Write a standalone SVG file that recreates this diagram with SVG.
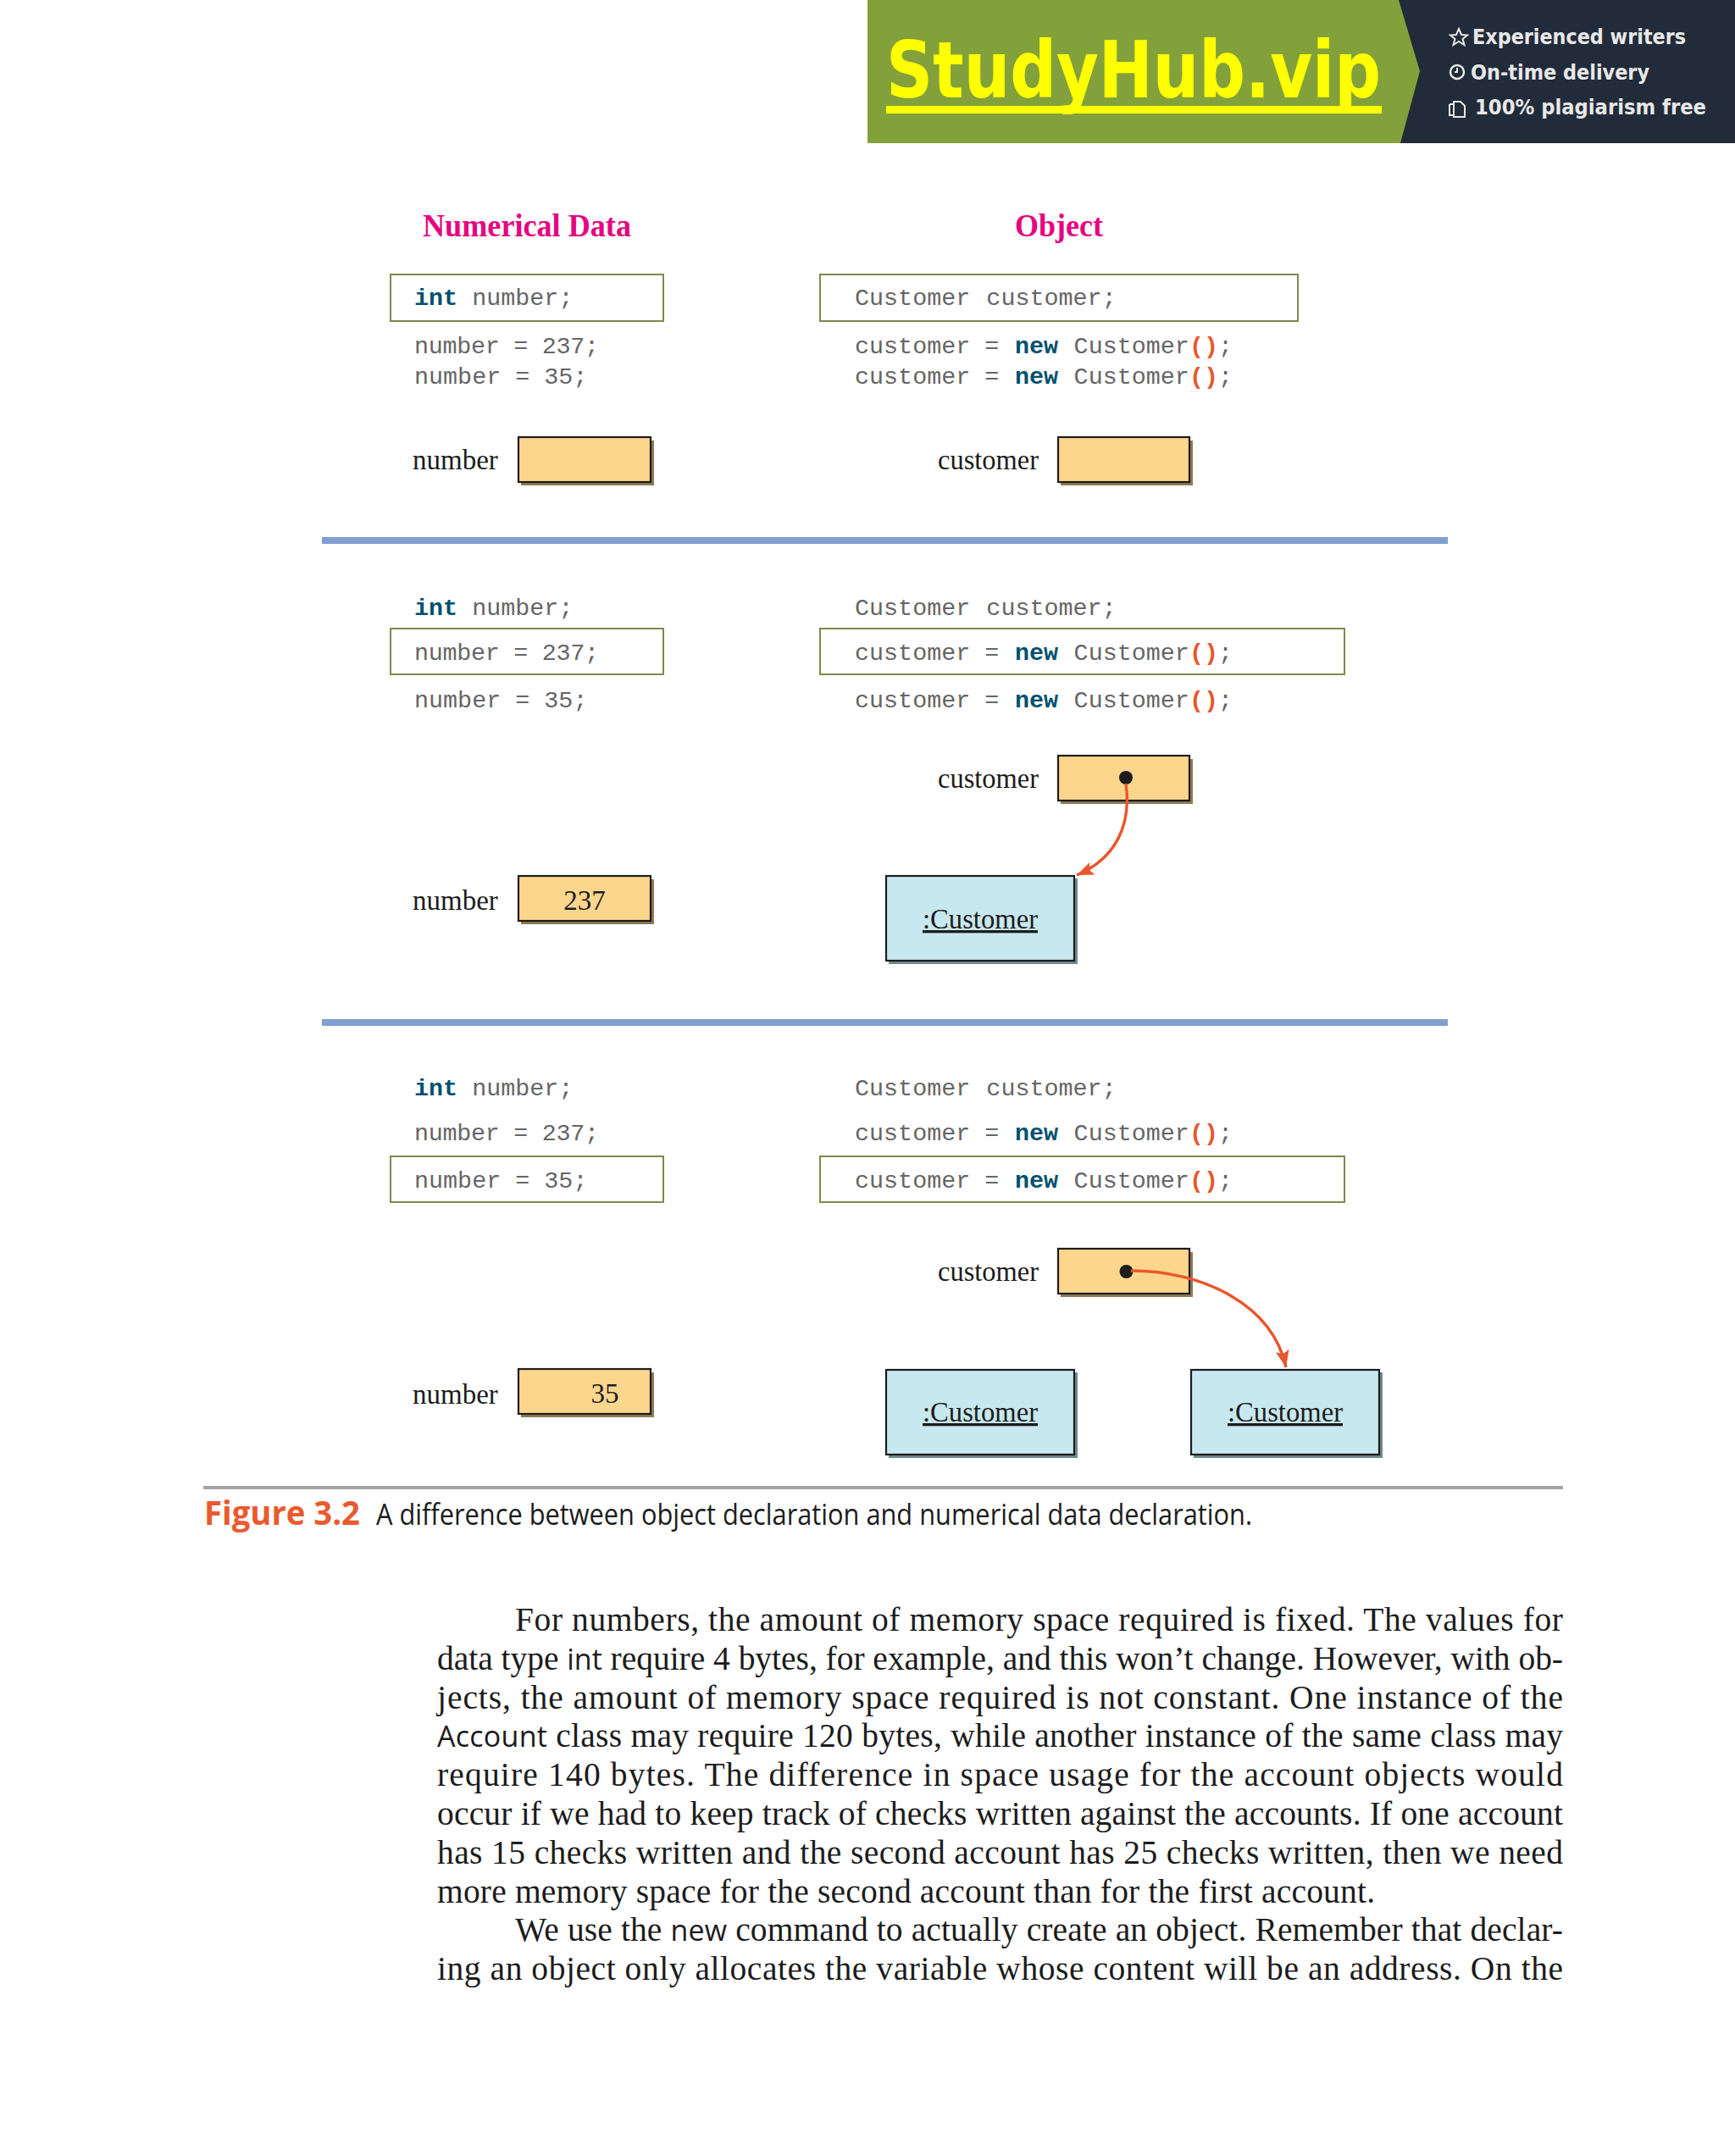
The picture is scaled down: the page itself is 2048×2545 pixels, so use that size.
<svg xmlns="http://www.w3.org/2000/svg" width="2048" height="2545" viewBox="0 0 2048 2545">
<style>
.h{font:bold 37px "Liberation Serif",serif;fill:#e5057f}
.c{font:28.4px "Liberation Mono",monospace;fill:#666}
.k{font-weight:bold;fill:#00506e}
.p{font-weight:bold;fill:#e9562c}
.l{font:33px "Liberation Serif",serif;fill:#1c1c1c}
.u{text-decoration:underline}
.sel{fill:#fff;stroke:#7d8a4e;stroke-width:2}
.var{fill:#fdd68e;stroke:#1c1c1c;stroke-width:2.2}
.vs{fill:#8c7c54}
.obj{fill:#c7e8ee;stroke:#1c1c1c;stroke-width:2.2}
.os{fill:#6f8a90}
.sep{fill:#7f9fd0}
.con{fill:none;stroke:#e9562c;stroke-width:3.4}
.b{font:39.5px "Liberation Serif",serif;fill:#1c1c1c}
.s{font-family:"Open Sans",sans-serif;font-size:34px}
.bt{font:bold 24px "DejaVu Sans",sans-serif;fill:#e8e8e8}
</style>
<defs>
<marker id="ah" markerUnits="userSpaceOnUse" markerWidth="22" markerHeight="16" refX="20" refY="8" orient="auto"><path d="M0 0L20 8L0 16L4 8Z" fill="#e9562c"/></marker>
</defs>
<rect width="2048" height="2545" fill="#fff"/>
<g id="banner">
<rect x="1024" y="0" width="1024" height="169" fill="#83a13a"/>
<path d="M1651 0H2048V169H1653L1676 84Z" fill="#222b3a"/>
<text x="1046" y="115" font-family="DejaVu Sans" font-weight="bold" font-size="92" fill="#ffff00" textLength="584" lengthAdjust="spacingAndGlyphs">StudyHub.vip</text>
<rect x="1046" y="125" width="585" height="9" fill="#ffff00"/>
<path d="M1722 34l3 7 7 .5-5.500 4.500 2 7-6.500-4-6.500 4 2-7-5.500-4.500 7-.5Z" fill="none" stroke="#e8e8e8" stroke-width="2"/>
<circle cx="1720" cy="85" r="8" fill="none" stroke="#e8e8e8" stroke-width="2.500"/>
<path d="M1720 80v5h-3" fill="none" stroke="#e8e8e8" stroke-width="2"/>
<path d="M1716 120h8l5 5v13h-13ZM1711 123h5M1711 123v13h5" fill="none" stroke="#e8e8e8" stroke-width="2"/>
<text class="bt" x="1738" y="52" textLength="252" lengthAdjust="spacingAndGlyphs">Experienced writers</text>
<text class="bt" x="1736" y="94" textLength="211" lengthAdjust="spacingAndGlyphs">On-time delivery</text>
<text class="bt" x="1741" y="135" textLength="273" lengthAdjust="spacingAndGlyphs">100% plagiarism free</text>
</g>
<g id="headings">
<text class="h" x="499" y="279" textLength="246" lengthAdjust="spacingAndGlyphs">Numerical Data</text>
<text class="h" x="1198" y="279" textLength="104" lengthAdjust="spacingAndGlyphs">Object</text>
</g>
<g id="section1">
<rect class="sel" x="461" y="324" width="322" height="55"/>
<rect class="sel" x="968" y="324" width="564" height="55"/>
<text class="c" x="489" y="360"><tspan class="k">int</tspan> number;</text>
<text class="c" x="1009" y="360">Customer <tspan dx="2">customer;</tspan></text>
<text class="c" x="489" y="417" textLength="218">number = 237;</text>
<text class="c" x="489" y="453">number = 35;</text>
<text class="c" x="1009" y="417">customer = <tspan class="k" dx="1.500">new</tspan> <tspan dx="1.500">Customer</tspan><tspan class="p">()</tspan>;</text>
<text class="c" x="1009" y="453">customer = <tspan class="k" dx="1.500">new</tspan> <tspan dx="1.500">Customer</tspan><tspan class="p">()</tspan>;</text>
</g>
<g id="var-number-1">
<text class="l" x="487" y="554">number</text>
<rect class="vs" x="615" y="520" width="157" height="53"/>
<rect class="var" x="612" y="516" width="156" height="53"/>
</g>
<g id="var-customer-1">
<text class="l" x="1107" y="554" textLength="119" lengthAdjust="spacingAndGlyphs">customer</text>
<rect class="vs" x="1252" y="520" width="156" height="53"/>
<rect class="var" x="1249" y="516" width="155" height="53"/>
</g>
<rect id="sep1" class="sep" x="380" y="634" width="1329" height="8"/>
<g id="section2">
<rect class="sel" x="461" y="742" width="322" height="54"/>
<rect class="sel" x="968" y="742" width="619" height="54"/>
<text class="c" x="489" y="726"><tspan class="k">int</tspan> number;</text>
<text class="c" x="1009" y="726">Customer <tspan dx="2">customer;</tspan></text>
<text class="c" x="489" y="779" textLength="218">number = 237;</text>
<text class="c" x="489" y="835">number = 35;</text>
<text class="c" x="1009" y="779">customer = <tspan class="k" dx="1.500">new</tspan> <tspan dx="1.500">Customer</tspan><tspan class="p">()</tspan>;</text>
<text class="c" x="1009" y="835">customer = <tspan class="k" dx="1.500">new</tspan> <tspan dx="1.500">Customer</tspan><tspan class="p">()</tspan>;</text>
</g>
<g id="var-number-2">
<text class="l" x="487" y="1074">number</text>
<rect class="vs" x="615" y="1038" width="157" height="53"/>
<rect class="var" x="612" y="1034" width="156" height="53"/>
<text class="l" x="690" y="1074" text-anchor="middle">237</text>
</g>
<g id="var-customer-2">
<text class="l" x="1107" y="930" textLength="119" lengthAdjust="spacingAndGlyphs">customer</text>
<rect class="vs" x="1252" y="896" width="156" height="53"/>
<rect class="var" x="1249" y="892" width="155" height="53"/>
<circle cx="1329" cy="918" r="8" fill="#1c1c1c"/>
</g>
<g id="obj-2">
<rect class="os" x="1049" y="1037" width="223" height="101"/>
<rect class="obj" x="1046" y="1034" width="222" height="100"/>
<text class="l u" x="1089" y="1096" textLength="136" lengthAdjust="spacingAndGlyphs">:Customer</text>
</g>
<rect id="sep2" class="sep" x="380" y="1203" width="1329" height="8"/>
<g id="section3">
<rect class="sel" x="461" y="1365" width="322" height="54"/>
<rect class="sel" x="968" y="1365" width="619" height="54"/>
<text class="c" x="489" y="1293"><tspan class="k">int</tspan> number;</text>
<text class="c" x="1009" y="1293">Customer <tspan dx="2">customer;</tspan></text>
<text class="c" x="489" y="1346" textLength="218">number = 237;</text>
<text class="c" x="489" y="1402">number = 35;</text>
<text class="c" x="1009" y="1346">customer = <tspan class="k" dx="1.500">new</tspan> <tspan dx="1.500">Customer</tspan><tspan class="p">()</tspan>;</text>
<text class="c" x="1009" y="1402">customer = <tspan class="k" dx="1.500">new</tspan> <tspan dx="1.500">Customer</tspan><tspan class="p">()</tspan>;</text>
</g>
<g id="var-number-3">
<text class="l" x="487" y="1657">number</text>
<rect class="vs" x="615" y="1620" width="157" height="53"/>
<rect class="var" x="612" y="1616" width="156" height="53"/>
<text class="l" x="714" y="1656" text-anchor="middle">35</text>
</g>
<g id="var-customer-3">
<text class="l" x="1107" y="1512" textLength="119" lengthAdjust="spacingAndGlyphs">customer</text>
<rect class="vs" x="1252" y="1478" width="156" height="53"/>
<rect class="var" x="1249" y="1474" width="155" height="53"/>
<circle cx="1329.500" cy="1501" r="8" fill="#1c1c1c"/>
</g>
<g id="obj-3a">
<rect class="os" x="1049" y="1620" width="223" height="101"/>
<rect class="obj" x="1046" y="1617" width="222" height="100"/>
<text class="l u" x="1089" y="1678" textLength="136" lengthAdjust="spacingAndGlyphs">:Customer</text>
</g>
<g id="obj-3b">
<rect class="os" x="1409" y="1620" width="223" height="101"/>
<rect class="obj" x="1406" y="1617" width="222" height="100"/>
<text class="l u" x="1449" y="1678" textLength="136" lengthAdjust="spacingAndGlyphs">:Customer</text>
</g>
<g id="connectors">
<path class="con" marker-end="url(#ah)" d="M1329 925C1336 975 1316 1014 1271 1033"/>
<path class="con" marker-end="url(#ah)" d="M1335 1500C1420 1500 1502 1540 1518 1614"/>
</g>
<g id="caption">
<rect x="240" y="1754" width="1605" height="4" fill="#a3a3a3"/>
<text x="241" y="1800" font-family="Open Sans" font-weight="bold" font-size="40" fill="#ea5a2e" textLength="184" lengthAdjust="spacingAndGlyphs">Figure 3.2</text>
<text x="444" y="1800" font-family="Open Sans" font-size="35" fill="#1c1c1c" textLength="1034" lengthAdjust="spacingAndGlyphs">A difference between object declaration and numerical data declaration.</text>
</g>
<g id="body">
<text class="b" x="608" y="1925" textLength="1237">For numbers, the amount of memory space required is fixed. The values for</text>
<text class="b" x="516" y="1971" textLength="1329">data type <tspan class="s">int</tspan> require 4 bytes, for example, and this won’t change. However, with ob-</text>
<text class="b" x="516" y="2017" textLength="1329">jects, the amount of memory space required is not constant. One instance of the</text>
<text class="b" x="516" y="2062" textLength="1329"><tspan class="s">Account</tspan> class may require 120 bytes, while another instance of the same class may</text>
<text class="b" x="516" y="2108" textLength="1329">require 140 bytes. The difference in space usage for the account objects would</text>
<text class="b" x="516" y="2154" textLength="1329">occur if we had to keep track of checks written against the accounts. If one account</text>
<text class="b" x="516" y="2200" textLength="1329">has 15 checks written and the second account has 25 checks written, then we need</text>
<text class="b" x="516" y="2246" textLength="1107">more memory space for the second account than for the first account.</text>
<text class="b" x="608" y="2291" textLength="1237">We use the <tspan class="s">new</tspan> command to actually create an object. Remember that declar-</text>
<text class="b" x="516" y="2337" textLength="1329">ing an object only allocates the variable whose content will be an address. On the</text>
</g>
</svg>
